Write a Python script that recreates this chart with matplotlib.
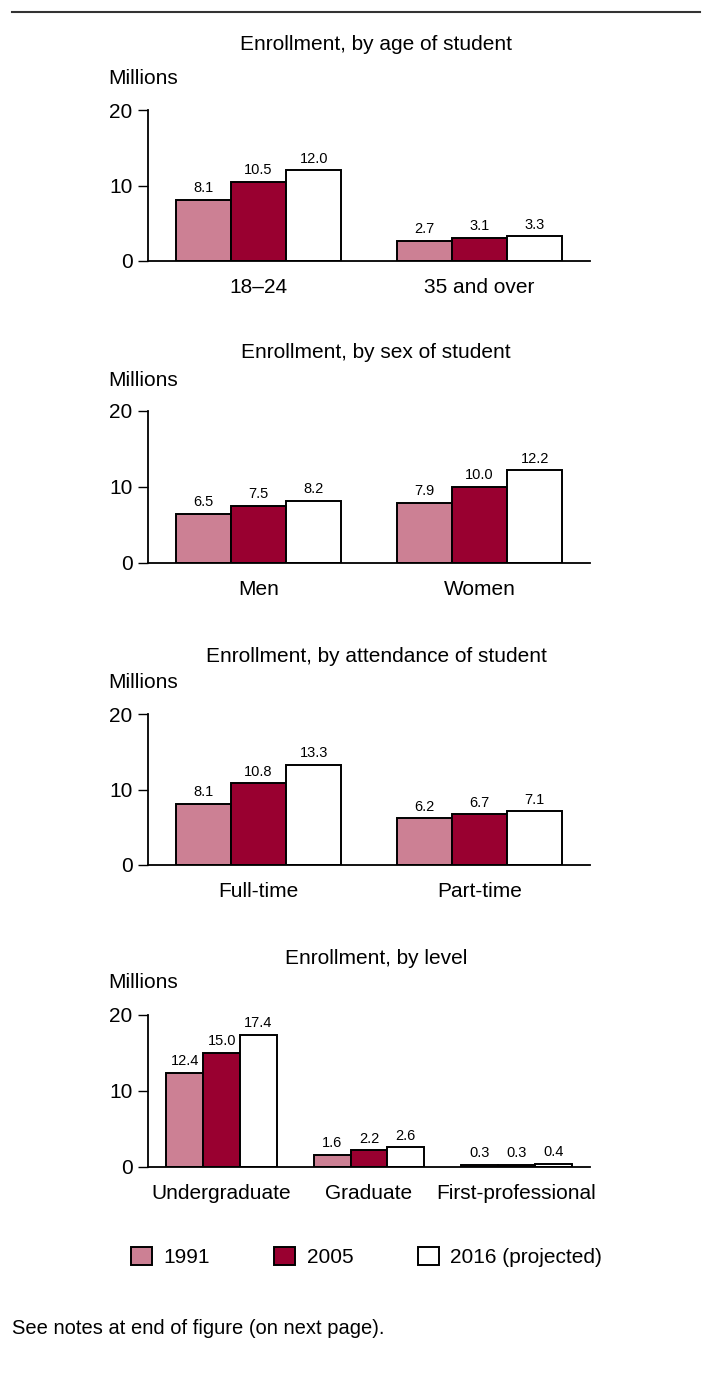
import matplotlib
matplotlib.use("Agg")
import matplotlib.pyplot as plt
import numpy as np

plt.rcParams['font.family'] = ['Liberation Sans', 'DejaVu Sans']

# Дані
years = ['1991', '2005', '2016 (projected)']
colors = ['#CC8094', '#990030', '#FFFFFF']

titles = ['Enrollment, by age of student',
          'Enrollment, by sex of student',
          'Enrollment, by attendance of student',
          'Enrollment, by level']

age_cats = ['18–24', '35 and over']
age_vals = [[8.1, 2.7], [10.5, 3.1], [12.0, 3.3]]

sex_cats = ['Men', 'Women']
sex_vals = [[6.5, 7.9], [7.5, 10.0], [8.2, 12.2]]

att_cats = ['Full-time', 'Part-time']
att_vals = [[8.1, 6.2], [10.8, 6.7], [13.3, 7.1]]

lvl_cats = ['Undergraduate', 'Graduate', 'First-professional']
lvl_vals = [[12.4, 1.6, 0.3], [15.0, 2.2, 0.3], [17.4, 2.6, 0.4]]

panels = [(age_cats, age_vals), (sex_cats, sex_vals),
          (att_cats, att_vals), (lvl_cats, lvl_vals)]

W, H = 704, 1385
fig = plt.figure(figsize=(W / 100, H / 100), dpi=100)

# піксельні позиції осей: (y для 20, y для 0)
ypix = [(110, 261), (411, 563), (714, 865), (1015, 1167)]
title_y = [45, 353, 656, 958]
mill_y = [78, 380, 683, 982]
x0, x1 = 148, 590

handles = None
for k, (cats, vals) in enumerate(panels):
    y20, y0 = ypix[k]
    ax = fig.add_axes([x0 / W, 1 - y0 / H, (x1 - x0) / W, (y0 - y20) / H])
    n = len(cats)
    x = np.arange(n)
    bw = 0.25
    conts = []
    for i in range(3):
        b = ax.bar(x + (i - 1) * bw, vals[i], bw, color=colors[i],
                   edgecolor='black', linewidth=1.4, label=years[i])
        conts.append(b)
        for xi, v in zip(x + (i - 1) * bw, vals[i]):
            ax.text(xi, v + 0.6, f'{v:.1f}', ha='center', va='bottom',
                    fontsize=10.5)
    if handles is None:
        handles = conts
    ax.set_xlim(-0.5, n - 0.5)
    ax.set_ylim(0, 20)
    ax.set_yticks([0, 10, 20])
    ax.set_xticks(x)
    ax.set_xticklabels(cats, fontsize=15)
    ax.tick_params(axis='x', length=0, pad=12)
    ax.tick_params(axis='y', length=7, width=1, pad=4, labelsize=15,
                   direction='out')
    for s in ['top', 'right']:
        ax.spines[s].set_visible(False)
    for s in ['left', 'bottom']:
        ax.spines[s].set_linewidth(1.3)
    ax.spines['bottom'].set_zorder(5)
    fig.text(376 / W, 1 - title_y[k] / H, titles[k], ha='center',
             va='center', fontsize=15)
    fig.text(108 / W, 1 - mill_y[k] / H, 'Millions', ha='left',
             va='center', fontsize=15)

fig.legend(handles, years, loc='center left',
           bbox_to_anchor=(131 / W, 1 - 1257 / H), ncol=3, frameon=False,
           fontsize=15, handlelength=1.0, handleheight=1.0,
           handletextpad=0.55, columnspacing=3.1, borderpad=0,
           borderaxespad=0)

# лінія зверху
fig.add_artist(plt.Line2D([12 / W, 700 / W], [1 - 12 / H, 1 - 12 / H],
                          color='#333333', linewidth=1.5))

fig.text(12 / W, 1 - 1328 / H, 'See notes at end of figure (on next page).',
         ha='left', va='center', fontsize=14.5)

fig.savefig('out.png', dpi=100)
